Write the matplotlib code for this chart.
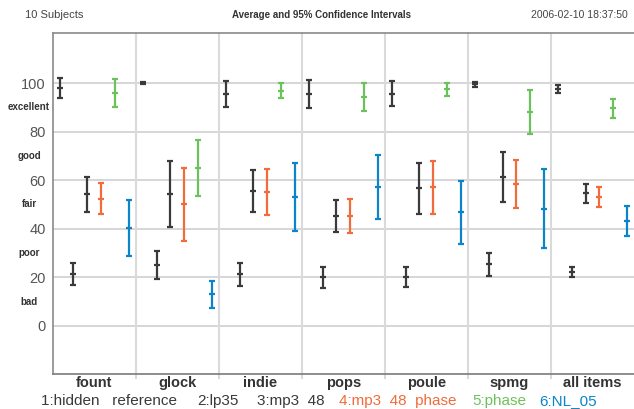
import matplotlib
matplotlib.use("Agg")
import matplotlib.pyplot as plt
from matplotlib.transforms import blended_transform_factory
from matplotlib.lines import Line2D

plt.rcParams['font.family'] = ['Liberation Sans', 'DejaVu Sans']

groups = ["fount", "glock", "indie", "pops", "poule", "spmg", "all items"]
series = ["1:hidden   reference", "2:lp35", "3:mp3  48", "4:mp3  48  phase", "5:phase", "6:NL_05"]
colors = ["#3a3a3a", "#3a3a3a", "#3a3a3a", "#f26b3a", "#6cc25a", "#0b84c9"]

ref_mean = [97.9, 100.0, 95.6, 95.6, 95.6, 99.6, 97.4]
ref_lo = [94.0, 99.7, 90.2, 89.8, 90.5, 98.5, 95.8]
ref_hi = [101.9, 100.3, 100.9, 101.2, 100.7, 100.5, 99.1]

lp35_mean = [21.5, 25.1, 21.4, 20.2, 20.3, 25.5, 22.2]
lp35_lo = [17.0, 19.2, 16.6, 15.8, 16.2, 20.6, 20.3]
lp35_hi = [25.9, 30.9, 25.8, 24.4, 24.4, 30.2, 24.2]

mp3_mean = [54.2, 54.5, 55.7, 45.3, 56.7, 61.4, 54.6]
mp3_lo = [47.0, 40.9, 47.0, 38.6, 46.1, 51.0, 50.5]
mp3_hi = [61.3, 68.0, 64.3, 51.7, 66.9, 71.7, 58.6]

mp3ph_mean = [52.4, 50.1, 55.0, 45.3, 57.1, 58.4, 53.1]
mp3ph_lo = [46.0, 35.0, 45.6, 38.1, 46.0, 48.7, 48.8]
mp3ph_hi = [58.8, 65.0, 64.6, 52.3, 68.0, 68.2, 57.2]

phase_mean = [95.8, 65.2, 96.8, 94.2, 97.4, 88.1, 89.6]
phase_lo = [90.0, 53.4, 93.7, 88.5, 94.8, 79.0, 85.6]
phase_hi = [101.6, 76.7, 99.9, 99.9, 100.0, 97.1, 93.5]

nl_mean = [40.2, 13.0, 53.1, 57.3, 46.8, 48.3, 43.1]
nl_lo = [28.8, 7.4, 39.2, 44.2, 33.9, 32.0, 36.9]
nl_hi = [51.7, 18.6, 67.2, 70.5, 59.7, 64.6, 49.5]

yticks = [0, 20, 40, 60, 80, 100]
grades = ["bad", "poor", "fair", "good", "excellent"]
grade_pos = [10, 30, 50, 70, 90]

means = [ref_mean, lp35_mean, mp3_mean, mp3ph_mean, phase_mean, nl_mean]
los = [ref_lo, lp35_lo, mp3_lo, mp3ph_lo, phase_lo, nl_lo]
his = [ref_hi, lp35_hi, mp3_hi, mp3ph_hi, phase_hi, nl_hi]

W, H = 634, 409
fig = plt.figure(figsize=(W / 100, H / 100), dpi=100)
left_px, right_px, top_px, bot_px = 52.7, 634.0, 33.0, 374.0
ax = fig.add_axes([left_px / W, (H - bot_px) / H, (right_px - left_px) / W, (bot_px - top_px) / H])

ax.set_xlim(0, len(groups))
ax.set_ylim(-19.8, 120.6)

for y in yticks:
    ax.axhline(y, color="#d0d0d0", lw=1.2, zorder=1)

trx = blended_transform_factory(ax.transData, fig.transFigure)
for g in range(1, len(groups)):
    ax.add_line(Line2D([g, g], [(H - 378) / H, (H - top_px) / H], transform=trx,
                       color="#dadada", lw=1.5, zorder=1, clip_on=False))

n = len(series)
for s in range(n):
    xs = [g + (s + 0.5) / n for g in range(len(groups))]
    m = means[s]
    lower = [mi - li for mi, li in zip(m, los[s])]
    upper = [hi - mi for mi, hi in zip(m, his[s])]
    ax.errorbar(xs, m, yerr=[lower, upper], fmt='_', color=colors[s], ecolor=colors[s],
                elinewidth=1.6, capsize=2.0, capthick=1.6, markersize=5, mew=1.6, zorder=3)

ax.set_xticks([])
ax.set_yticks(yticks)
ax.set_yticklabels([str(v) for v in yticks], fontsize=10.5, color="#555555")
ax.tick_params(axis='y', length=0, pad=5)

ax.spines["right"].set_visible(False)
ax.spines["left"].set_color("#8a8a8a")
ax.spines["left"].set_linewidth(1.2)
ax.spines["bottom"].set_color("#7a7a7a")
ax.spines["bottom"].set_linewidth(1.2)
ax.spines["top"].set_color("#8a8a8a")
ax.spines["top"].set_linewidth(1.2)

tr = blended_transform_factory(fig.transFigure, ax.transData)
for lab, yp in zip(grades, grade_pos):
    ax.text(29 / W, yp, lab, transform=tr, ha='center', va='center',
            fontsize=7, fontweight='bold', color="#333333")

for i, gname in enumerate(groups):
    ax.text(i + 0.5, (H - 387) / H, gname, transform=trx, ha='center', va='baseline',
            fontsize=10.5, fontweight='bold', color="#333333")

legend_x = [41, 197, 257, 339, 472, 539]
for lab, xp, c in zip(series, legend_x, colors):
    fig.text(xp / W, (H - 405) / H, lab, ha='left', va='baseline', fontsize=11, color=c)

fig.text(25 / W, (H - 18) / H, "10 Subjects", ha='left', va='baseline', fontsize=8, color="#444444")
fig.text(322 / W, (H - 18) / H, "Average and 95% Confidence Intervals", ha='center', va='baseline',
         fontsize=7, fontweight='bold', color="#333333")
fig.text(628 / W, (H - 18) / H, "2006-02-10 18:37:50", ha='right', va='baseline', fontsize=7.5, color="#444444")

fig.savefig("out.png", dpi=100)
